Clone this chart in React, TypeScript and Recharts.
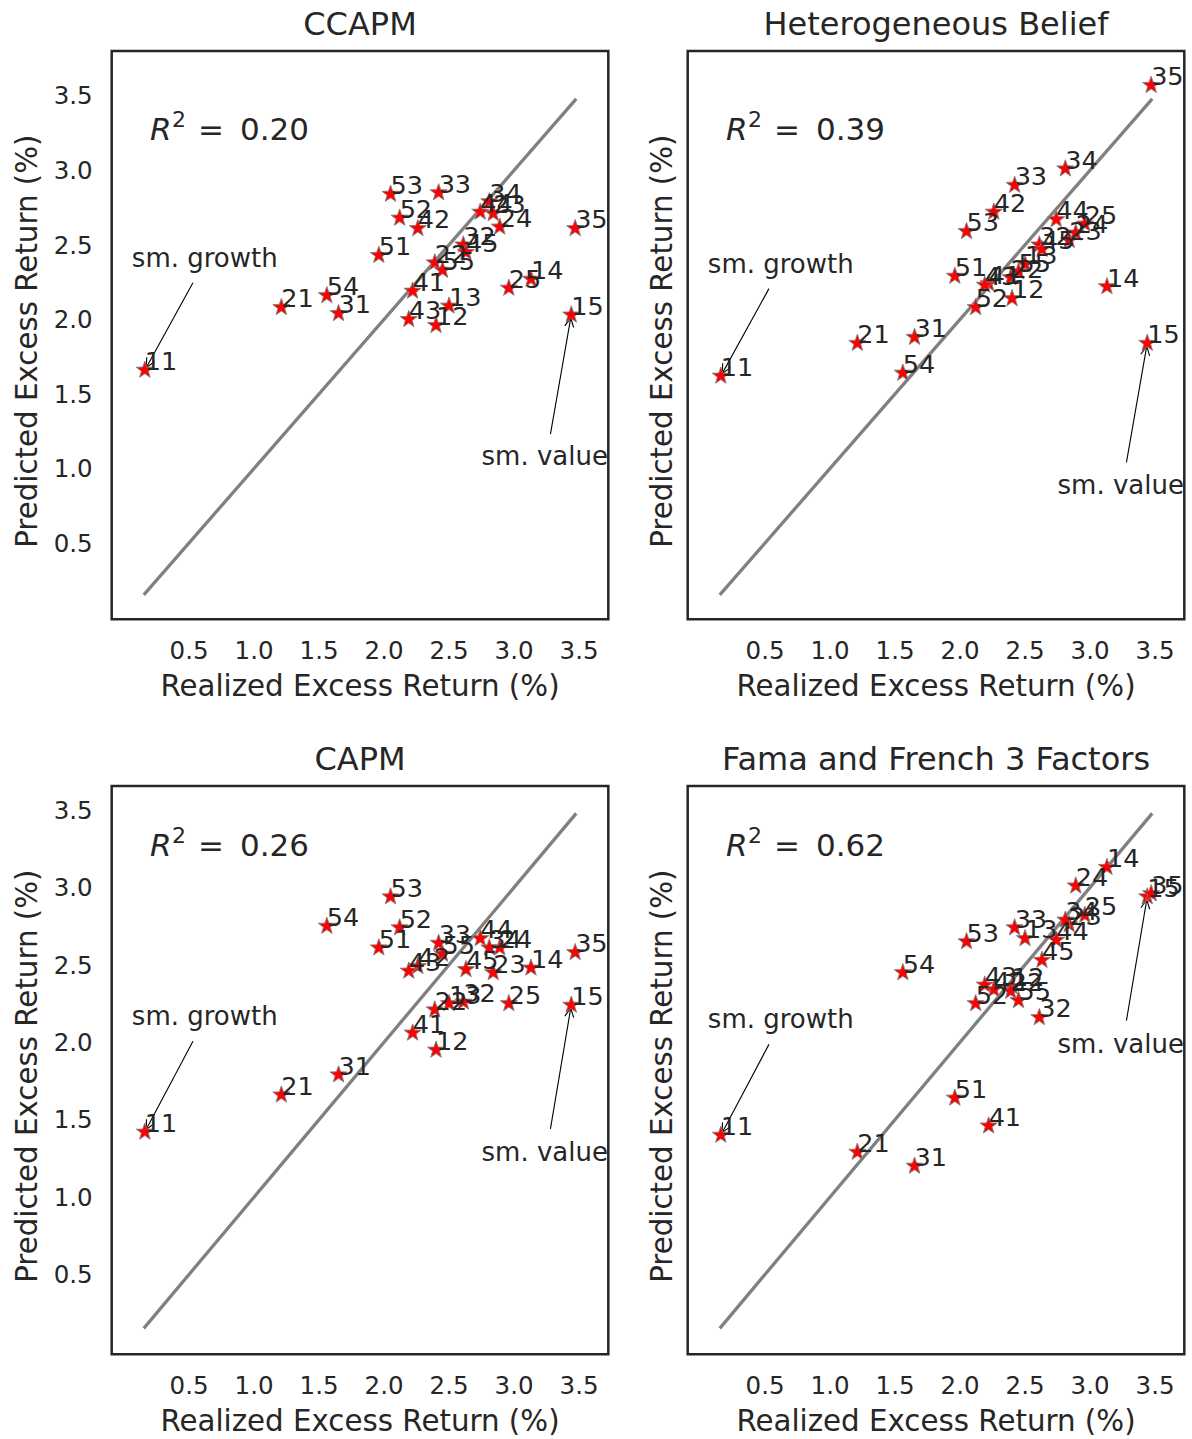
import React from "react";
import {
  ScatterChart,
  Scatter,
  XAxis,
  YAxis,
  ReferenceLine,
  ReferenceArea,
} from "recharts";

// 25 size/book-to-market portfolios, in the order 11..55
const PORTFOLIOS = [
  "11", "12", "13", "14", "15",
  "21", "22", "23", "24", "25",
  "31", "32", "33", "34", "35",
  "41", "42", "43", "44", "45",
  "51", "52", "53", "54", "55",
];

// realized excess return (%), same x for every panel
const REALIZED = [
  0.16, 2.4, 2.5, 3.13, 3.44,
  1.21, 2.39, 2.84, 2.89, 2.96,
  1.65, 2.61, 2.42, 2.81, 3.47,
  2.22, 2.26, 2.19, 2.74, 2.63,
  1.96, 2.12, 2.05, 1.56, 2.45,
];

// predicted excess return (%) by model
const CCAPM = [
  1.66, 1.96, 2.09, 2.27, 2.03,
  2.08, 2.38, 2.71, 2.62, 2.21,
  2.04, 2.5, 2.85, 2.79, 2.61,
  2.19, 2.61, 2.0, 2.72, 2.45,
  2.43, 2.68, 2.84, 2.16, 2.33,
];
const HETERO = [
  1.62, 2.14, 2.37, 2.22, 1.84,
  1.84, 2.28, 2.53, 2.58, 2.64,
  1.88, 2.5, 2.9, 3.01, 3.57,
  2.24, 2.72, 2.23, 2.67, 2.47,
  2.29, 2.08, 2.59, 1.64, 2.32,
];
const CAPM = [
  1.42, 1.95, 2.25, 2.48, 2.24,
  1.66, 2.21, 2.45, 2.61, 2.25,
  1.79, 2.26, 2.64, 2.61, 2.58,
  2.06, 2.49, 2.46, 2.67, 2.47,
  2.61, 2.74, 2.94, 2.75, 2.57,
];
const FF3 = [
  1.4, 2.36, 2.67, 3.13, 2.94,
  1.29, 2.33, 2.76, 3.01, 2.82,
  1.2, 2.16, 2.74, 2.79, 2.96,
  1.46, 2.34, 2.37, 2.66, 2.53,
  1.64, 2.25, 2.65, 2.45, 2.27,
];

const TITLES = ["CCAPM", "Heterogeneous Belief", "CAPM", "Fama and French 3 Factors"];
const R2 = ["0.20", "0.39", "0.26", "0.62"];

const TICKS = [0.5, 1.0, 1.5, 2.0, 2.5, 3.0, 3.5];
const X_DOMAIN = [-0.095, 3.725];
const Y_DOMAIN_TOP = [-0.012, 3.8];
const Y_DOMAIN_BOTTOM = [-0.016, 3.655];

const TEXT = "#262626";
const FONT = "DejaVu Sans";

function StarShape(props: any) {
  const { cx, cy } = props;
  if (cx == null || cy == null) return null;
  const R = 9;
  const r = R * 0.4;
  let d = "";
  for (let i = 0; i < 10; i++) {
    const rad = i % 2 === 0 ? R : r;
    const a = -Math.PI / 2 + (i * Math.PI) / 5;
    d += (i ? "L" : "M") + (cx + rad * Math.cos(a)).toFixed(2) + "," + (cy + rad * Math.sin(a)).toFixed(2);
  }
  return <path d={d + "Z"} fill="#ff0000" stroke="#808080" strokeWidth={0.9} />;
}

function PointName(props: any) {
  const { cx, cy, payload } = props;
  if (cx == null) return null;
  return (
    <text x={cx} y={cy} fontSize={25.5} fill={TEXT} fontFamily={FONT}>
      {payload.name}
    </text>
  );
}

function NoteText(props: any) {
  const { cx, cy, payload } = props;
  if (cx == null) return null;
  if (payload.kind === "r2") {
    return (
      <text x={cx} y={cy} fontSize={31} fill={TEXT} fontFamily={FONT}>
        <tspan fontStyle="italic">R</tspan>
        <tspan x={cx + 22} dy={-13} fontSize={22}>2</tspan>
        <tspan x={cx + 48} dy={13}>=</tspan>
        <tspan x={cx + 90}>{payload.text}</tspan>
      </text>
    );
  }
  return (
    <text x={cx} y={cy} fontSize={26} fill={TEXT} fontFamily={FONT}>
      {payload.text}
    </text>
  );
}

// line from the note text to the point, open "->" head
function ArrowShape(props: any) {
  const { x1, y1, x2, y2 } = props;
  const dx = x2 - x1;
  const dy = y2 - y1;
  const len = Math.hypot(dx, dy) || 1;
  const ux = dx / len;
  const uy = dy / len;
  const hx = x2 - ux * 3;
  const hy = y2 - uy * 3;
  const bx = hx - ux * 9;
  const by = hy - uy * 9;
  const px = -uy * 4.5;
  const py = ux * 4.5;
  return (
    <g>
      <line x1={x1} y1={y1} x2={hx} y2={hy} stroke="#000" strokeWidth={1.1} />
      <polyline
        points={`${bx + px},${by + py} ${hx},${hy} ${bx - px},${by - py}`}
        fill="none"
        stroke="#000"
        strokeWidth={1.1}
      />
    </g>
  );
}

type PanelProps = {
  title: string;
  predicted: number[];
  r2: string;
  left: number;
  top: number;
  firstCol: boolean;
  yDomain: number[];
};

function Panel({ title, predicted, r2, left, top, firstCol, yDomain }: PanelProps) {
  const points = PORTFOLIOS.map((name, i) => ({ name, x: REALIZED[i], y: predicted[i] }));
  const lo = Math.min(...REALIZED);
  const hi = Math.max(...REALIZED);
  const growth = points[0]; // portfolio 11
  const value = points[4]; // portfolio 15

  const notes = [
    { kind: "r2", text: r2, x: 0.2, y: 3.2 },
    { kind: "txt", text: "sm. growth", x: growth.x - 0.1, y: growth.y + 0.69 },
    { kind: "txt", text: "sm. value", x: value.x - 0.69, y: value.y - 1.01 },
  ];

  const yAxisWidth = firstCol ? 111.7 : 67.7;
  const labelGap = firstCol ? 75 : 16;
  const width = firstCol ? 620 : 572;
  const rightMargin = firstCol ? 11.7 : 7.7;

  return (
    <div style={{ position: "absolute", left, top }}>
      <ScatterChart width={width} height={706} margin={{ top: 51, right: rightMargin, bottom: 0, left: 0 }}>
        <XAxis
          type="number"
          dataKey="x"
          domain={X_DOMAIN}
          allowDataOverflow
          ticks={TICKS}
          interval={0}
          tickFormatter={(v: number) => v.toFixed(1)}
          tickLine={false}
          axisLine={false}
          tickSize={0}
          tickMargin={22}
          height={86.7}
          tick={{ fill: TEXT, fontSize: 24.5, fontFamily: FONT }}
          label={(p: any) => {
            const vb = p.viewBox;
            return (
              <text
                x={vb.x + vb.width / 2}
                y={vb.y + 77}
                textAnchor="middle"
                fontSize={29.3}
                fill={TEXT}
                fontFamily={FONT}
              >
                Realized Excess Return (%)
              </text>
            );
          }}
        />
        <YAxis
          type="number"
          dataKey="y"
          domain={yDomain}
          allowDataOverflow
          ticks={TICKS}
          interval={0}
          tickFormatter={(v: number) => v.toFixed(1)}
          tick={firstCol ? { fill: TEXT, fontSize: 24.5, fontFamily: FONT } : false}
          tickLine={false}
          axisLine={false}
          tickSize={0}
          tickMargin={19}
          width={yAxisWidth}
          label={(p: any) => {
            const vb = p.viewBox;
            const lx = vb.x + vb.width - labelGap;
            const ly = vb.y + vb.height / 2 + 6;
            return (
              <text
                x={lx}
                y={ly}
                transform={`rotate(-90, ${lx}, ${ly})`}
                textAnchor="middle"
                fontSize={29.3}
                fill={TEXT}
                fontFamily={FONT}
              >
                Predicted Excess Return (%)
              </text>
            );
          }}
        />
        <ReferenceArea
          x1={X_DOMAIN[0]}
          x2={X_DOMAIN[1]}
          y1={yDomain[0]}
          y2={yDomain[1]}
          fill="none"
          fillOpacity={0}
          stroke={TEXT}
          strokeWidth={2.5}
          ifOverflow="visible"
          label={(p: any) => {
            const vb = p.viewBox;
            return (
              <text
                x={vb.x + vb.width / 2}
                y={vb.y - 16}
                textAnchor="middle"
                fontSize={32}
                fill={TEXT}
                fontFamily={FONT}
              >
                {title}
              </text>
            );
          }}
        />
        <ReferenceLine
          segment={[{ x: lo, y: lo }, { x: hi, y: hi }]}
          stroke="#808080"
          strokeWidth={3.3}
          strokeLinecap="square"
          ifOverflow="visible"
        />
        <Scatter data={points} shape={StarShape} isAnimationActive={false} />
        <Scatter data={points} shape={PointName} isAnimationActive={false} />
        <Scatter data={notes} shape={NoteText} isAnimationActive={false} />
        <ReferenceLine
          segment={[{ x: growth.x + 0.37, y: growth.y + 0.586 }, { x: growth.x, y: growth.y }]}
          shape={ArrowShape}
          ifOverflow="visible"
        />
        <ReferenceLine
          segment={[{ x: value.x - 0.16, y: value.y - 0.8 }, { x: value.x, y: value.y }]}
          shape={ArrowShape}
          ifOverflow="visible"
        />
      </ScatterChart>
    </div>
  );
}

export default function App() {
  return (
    <div
      style={{
        position: "absolute",
        left: 0,
        top: 0,
        width: 1192,
        height: 1439,
        background: "#fff",
        overflow: "hidden",
      }}
    >
      <Panel title={TITLES[0]} predicted={CCAPM} r2={R2[0]} left={0} top={0} firstCol yDomain={Y_DOMAIN_TOP} />
      <Panel title={TITLES[1]} predicted={HETERO} r2={R2[1]} left={620} top={0} firstCol={false} yDomain={Y_DOMAIN_TOP} />
      <Panel title={TITLES[2]} predicted={CAPM} r2={R2[2]} left={0} top={735} firstCol yDomain={Y_DOMAIN_BOTTOM} />
      <Panel title={TITLES[3]} predicted={FF3} r2={R2[3]} left={620} top={735} firstCol={false} yDomain={Y_DOMAIN_BOTTOM} />
    </div>
  );
}
